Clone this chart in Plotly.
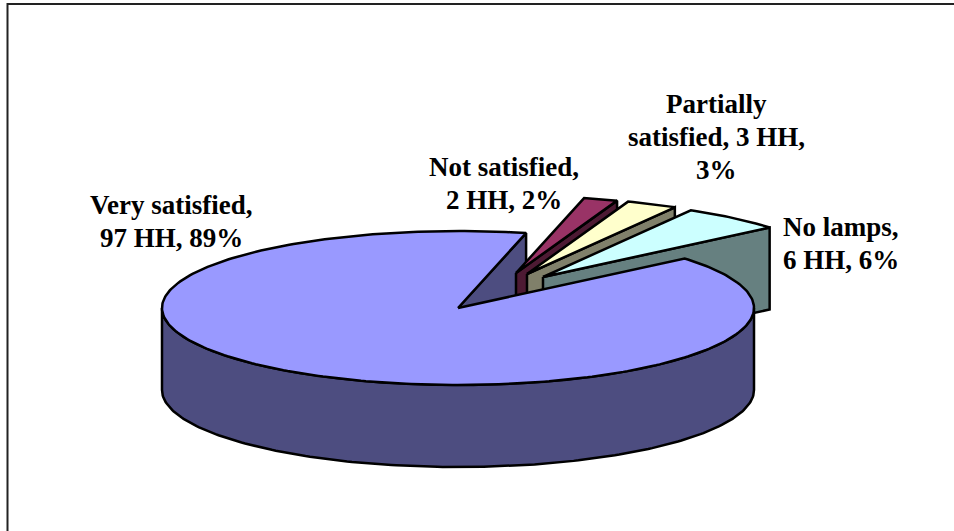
import math
import plotly.graph_objects as go

# --- data
categories = ["Not satisfied", "Partially satisfied", "No lamps", "Very satisfied"]
households = [2, 3, 6, 97]
percents = [2, 3, 6, 89]

# --- styling / layout
W, H = 954, 531
top_colors = ["#993366", "#FFFFCC", "#CCFFFF", "#9999FF"]
wall_colors = ["#4D1A33", "#80806A", "#668080", "#4D4D80"]
centres = [(516, 273), (527, 274), (543, 277), (458, 308)]
RX, RY, DEPTH = 296, 77, 82
START_ANGLE = 76.7
FONT = dict(family="Liberation Serif", size=27, color="black")
LINE_GAP = 33
label_lines = [
    ["Not satisfied,", "{hh} HH, {p}%"],
    ["Partially", "satisfied, {hh} HH,", "{p}%"],
    ["No lamps,", "{hh} HH, {p}%"],
    ["Very satisfied,", "{hh} HH, {p}%"],
]
label_anchor = [(504, 167), (716, 104), (841, 227), (171, 205)]

total = sum(households)
fig = go.Figure()


def pt(c, deg, dz=0):
    a = math.radians(deg)
    return c[0] + RX * math.cos(a), c[1] - RY * math.sin(a) + dz


def poly(points, fill):
    xs = [p[0] for p in points] + [points[0][0]]
    ys = [p[1] for p in points] + [points[0][1]]
    fig.add_trace(go.Scatter(
        x=xs, y=ys, mode="lines", fill="toself", fillcolor=fill,
        line=dict(color="black", width=2.5), hoverinfo="skip", showlegend=False))


def arc(c, a0, a1, dz=0, step=1.0):
    n = max(2, int(abs(a1 - a0) / step) + 1)
    return [pt(c, a0 + (a1 - a0) * i / (n - 1), dz) for i in range(n)]


# slice angles, clockwise from the start angle
spans = []
a = START_ANGLE
for v in households:
    b = a - 360 * v / total
    spans.append((a, b))
    a = b

main_c = centres[3]
main_a0, main_a1 = spans[3]

# back cut wall of the big slice
e = pt(main_c, START_ANGLE)
poly([main_c, e, (e[0], e[1] + DEPTH), (main_c[0], main_c[1] + DEPTH)], wall_colors[3])

# the three pulled-out slices, back to front
for i in range(3):
    c = centres[i]
    a0, a1 = spans[i]
    o = pt(c, a1)
    poly([c, o, (o[0], o[1] + DEPTH), (c[0], c[1] + DEPTH)], wall_colors[i])
    poly([c] + arc(c, a0, a1), top_colors[i])

# outer wall + top of the big slice
poly(arc(main_c, 180, 360) + arc(main_c, 360, 180, DEPTH), wall_colors[3])
poly([main_c] + arc(main_c, main_a0, main_a1), top_colors[3])

# labels
for i in range(4):
    x, y = label_anchor[i]
    for j, line in enumerate(label_lines[i]):
        fig.add_annotation(
            x=x, y=y + j * LINE_GAP, xref="x", yref="y", showarrow=False,
            text="<b>%s</b>" % line.format(hh=households[i], p=percents[i]),
            font=FONT, xanchor="center", yanchor="middle")

# chart frame
frame = dict(color="#222222", width=2)
fig.add_shape(type="line", x0=7.5, x1=W, y0=4, y1=4, line=frame, xref="x", yref="y")
fig.add_shape(type="line", x0=7.5, x1=7.5, y0=3, y1=H, line=frame, xref="x", yref="y")

fig.update_layout(
    width=W, height=H, autosize=False, showlegend=False,
    margin=dict(l=0, r=0, t=0, b=0),
    paper_bgcolor="white", plot_bgcolor="white",
    xaxis=dict(range=[0, W], visible=False, fixedrange=True),
    yaxis=dict(range=[H, 0], visible=False, fixedrange=True),
)
fig.write_html("out.html", post_script="document.body.style.margin='0';",
               config={"displayModeBar": False})
